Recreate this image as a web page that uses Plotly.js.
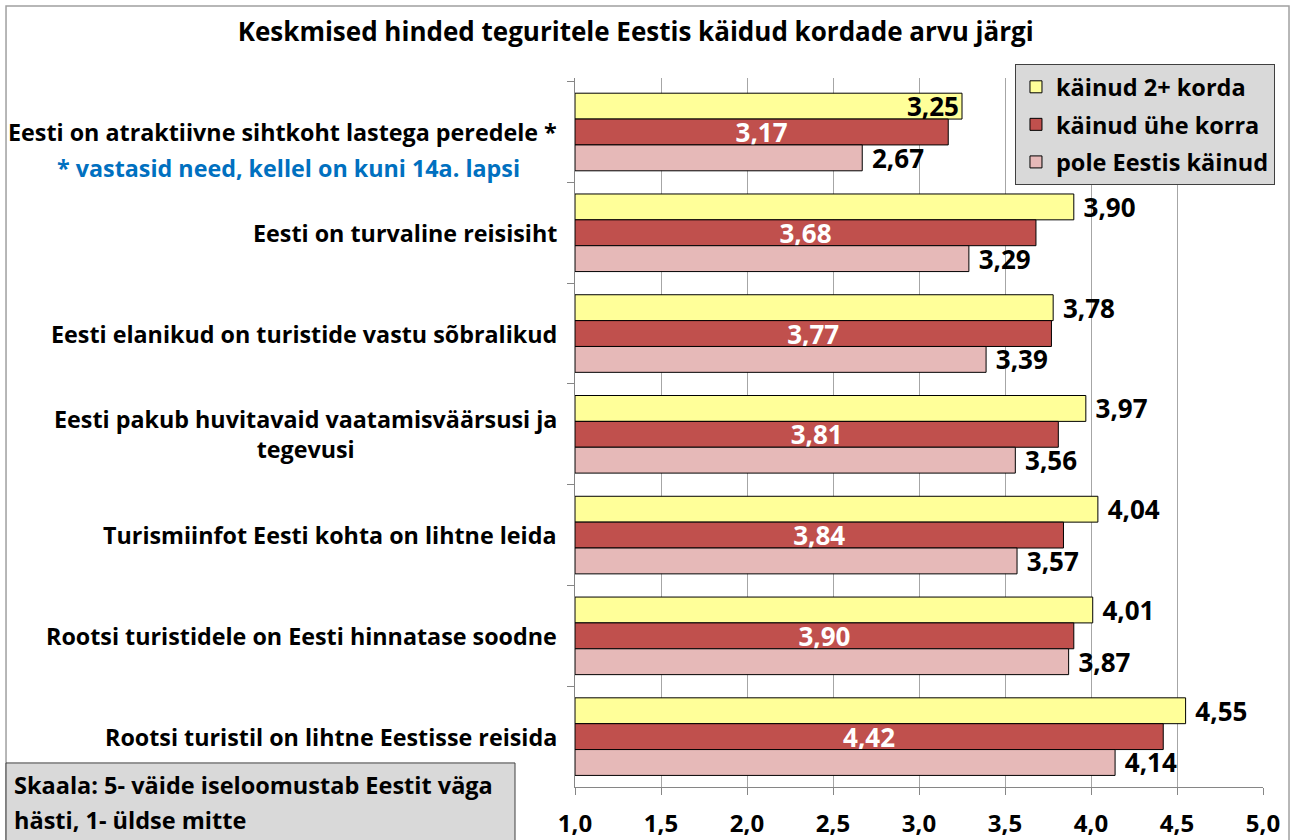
<!DOCTYPE html>
<html>
<head>
<meta charset="utf-8">
<script src="https://cdn.plot.ly/plotly-3.0.1.min.js"></script>
<style>
  html, body { margin: 0; padding: 0; background: #ffffff; }
  #chart { width: 1292px; height: 840px; }
</style>
</head>
<body>
<div id="chart"></div>
<script>
// ---- data ----
const categories = [
  "Eesti on atraktiivne sihtkoht lastega peredele *",
  "Eesti on turvaline reisisiht",
  "Eesti elanikud on turistide vastu sõbralikud",
  "Eesti pakub huvitavaid vaatamisväärsusi ja<br>tegevusi",
  "Turismiinfot Eesti kohta on lihtne leida",
  "Rootsi turistidele on Eesti hinnatase soodne",
  "Rootsi turistil on lihtne Eestisse reisida"
];
const seriesNames = ["käinud 2+ korda", "käinud ühe korra", "pole Eestis käinud"];
const visited2plus = [3.25, 3.90, 3.78, 3.97, 4.04, 4.01, 4.55];
const visitedOnce  = [3.17, 3.68, 3.77, 3.81, 3.84, 3.90, 4.42];
const notVisited   = [2.67, 3.29, 3.39, 3.56, 3.57, 3.87, 4.14];
const footnote = "* vastasid need, kellel on kuni 14a. lapsi";
const scaleNote = ["Skaala: 5- väide iseloomustab Eestit väga", "hästi, 1- üldse mitte"];
const chartTitle = "Keskmised hinded teguritele Eestis käidud kordade arvu järgi";
const axisMin = 1;

// ---- styles ----
const FONT = "'Open Sans', Lato, sans-serif";
const colors = ["#FFFF99", "#C0504D", "#E6B9B8"];
const LABEL_SIZE = 26;
const TEXT_SIZE = 23.3;

function barTrace(values, idx, opts) {
  return Object.assign({
    type: "bar",
    orientation: "h",
    name: seriesNames[idx],
    legendgroup: "g" + idx,
    y: categories,
    x: values.map(v => v - axisMin),
    base: axisMin,
    customdata: values,
    marker: { color: colors[idx], line: { color: "#000000", width: 1 } },
    textangle: 0,
    constraintext: "none",
    cliponaxis: false,
    hoverinfo: "skip"
  }, opts);
}

const traces = [
  barTrace(visited2plus, 0, {
    texttemplate: "\u00a0%{customdata:.2f}",
    textposition: visited2plus.map((v, i) => i === 0 ? "inside" : "outside"),
    insidetextanchor: "end",
    textfont: { family: FONT, size: LABEL_SIZE, color: "#000000", weight: 700 }
  }),
  barTrace(visitedOnce, 1, {
    texttemplate: "%{customdata:.2f}",
    textposition: "inside",
    insidetextanchor: "middle",
    textfont: { family: FONT, size: LABEL_SIZE, color: "#FFFFFF", weight: 700 }
  }),
  barTrace(notVisited, 2, {
    texttemplate: "\u00a0%{customdata:.2f}",
    textposition: "outside",
    textfont: { family: FONT, size: LABEL_SIZE, color: "#000000", weight: 700 }
  })
];

const annotations = categories.map(c => ({
  xref: "paper", yref: "y", x: 0, y: c,
  xanchor: "right", yanchor: "middle", xshift: -16,
  align: "center", showarrow: false, text: c,
  font: { family: FONT, size: TEXT_SIZE, color: "#000000", weight: 700 }
}));
annotations.push({
  xref: "paper", yref: "y", x: 0, y: categories[0],
  xanchor: "right", yanchor: "middle", xshift: -53, yshift: -36,
  showarrow: false, text: footnote,
  font: { family: FONT, size: TEXT_SIZE, color: "#0070C0", weight: 700 }
});
scaleNote.forEach((t, i) => annotations.push({
  xref: "paper", yref: "paper", x: -0.818, y: 0.0028 - i * 0.0494,
  xanchor: "left", yanchor: "middle", showarrow: false, text: t,
  font: { family: FONT, size: 23.5, color: "#000000", weight: 700 }
}));

const layout = {
  width: 1292, height: 840,
  margin: { l: 575, r: 29, t: 78, b: 53 },
  paper_bgcolor: "#ffffff", plot_bgcolor: "#ffffff",
  font: { family: FONT, color: "#000000" },
  separators: ",.",
  title: {
    text: chartTitle,
    x: 0.492, xref: "container", xanchor: "center",
    y: 0.962, yref: "container", yanchor: "middle",
    font: { family: FONT, size: 26, color: "#000000", weight: 700 }
  },
  barmode: "group", bargap: 0.23, bargroupgap: 0,
  uniformtext: { mode: "show", minsize: LABEL_SIZE },
  xaxis: {
    range: [1, 5], dtick: 0.5, tick0: 1, tickformat: ".1f",
    showgrid: true, gridcolor: "#A6A6A6", gridwidth: 1,
    showline: true, linecolor: "#868686", linewidth: 1,
    ticks: "outside", ticklen: 7, tickcolor: "#868686",
    ticklabelstandoff: 8,
    tickfont: { family: FONT, size: 24, color: "#000000", weight: 700 },
    zeroline: false, fixedrange: true
  },
  yaxis: {
    type: "category", autorange: "reversed",
    showticklabels: false, showgrid: false,
    showline: true, linecolor: "#868686", linewidth: 1,
    ticks: "outside", tickson: "boundaries", ticklen: 7, tickcolor: "#868686",
    zeroline: false, fixedrange: true
  },
  showlegend: true,
  legend: {
    x: 0.6395, y: 1.0197, xanchor: "left", yanchor: "top",
    xref: "paper", yref: "paper",
    bgcolor: "#D9D9D9", bordercolor: "#404040", borderwidth: 1,
    traceorder: "grouped", tracegroupgap: 4,
    font: { family: FONT, size: 23.5, color: "#000000", weight: 700 }
  },
  shapes: [
    { type: "rect", xref: "paper", yref: "paper", x0: -0.827, x1: 1.0378, y0: -0.09, y1: 1.1016,
      line: { color: "#A0A0A0", width: 1.5 }, fillcolor: "rgba(0,0,0,0)", layer: "below" },
    { type: "rect", xref: "paper", yref: "paper", x0: -0.827, x1: -0.0872, y0: -0.09, y1: 0.0339,
      line: { color: "#404040", width: 1 }, fillcolor: "#D9D9D9", layer: "above" }
  ],
  annotations: annotations
};

Plotly.newPlot("chart", traces, layout, { displayModeBar: false, staticPlot: true });
</script>
</body>
</html>
